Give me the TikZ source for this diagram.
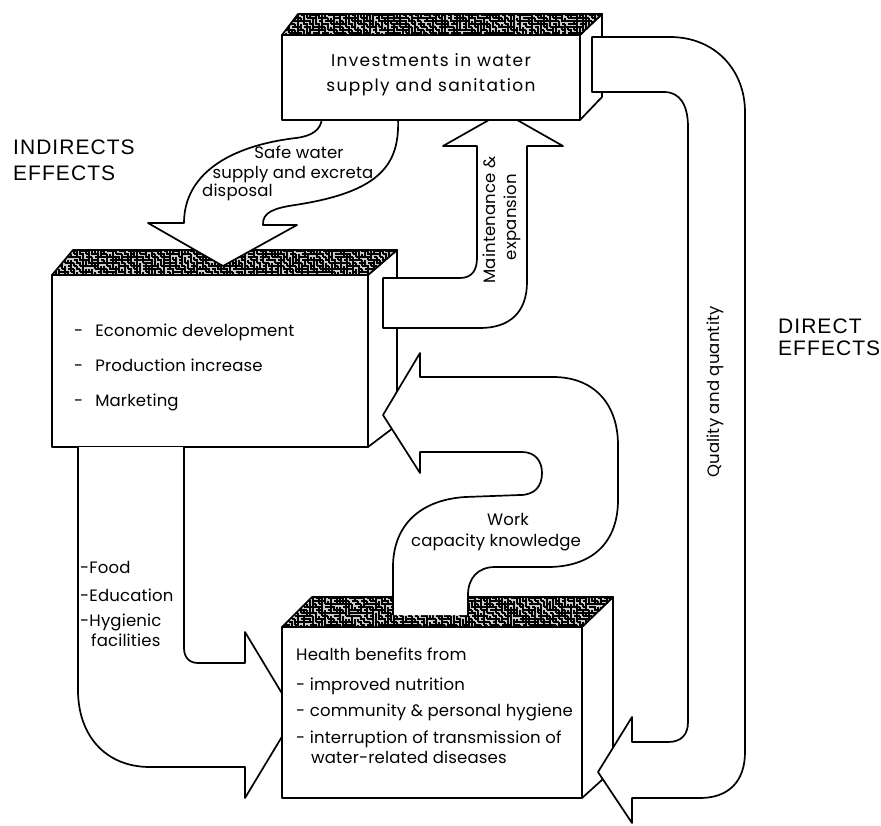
\documentclass[tikz,border=0pt]{standalone}
\usepackage{fontspec}
\setmainfont{Poppins}
\newfontfamily\capsfont{Liberation Sans}

% random maze texture for the top faces of the slabs
\newcommand\mazepatch[4]{%
  \foreach \ci in {0,...,#3}{%
    \foreach \cj in {0,...,#4}{%
      \pgfmathrandominteger{\rr}{0}{3}%
      \pgfmathsetmacro{\px}{#1+3*\ci}%
      \pgfmathsetmacro{\py}{#2+3*\cj}%
      \ifcase\rr\relax
        \draw[maze] (\px,\py) -- ++(3,0);
      \or \draw[maze] (\px,\py) -- ++(0,3);
      \or \draw[maze] (\px,\py) -- ++(3,0) -- ++(0,3);
      \else \draw[maze] (\px,\py) -- ++(0,3) -- ++(3,0);
      \fi}}}

\begin{document}
\begin{tikzpicture}[x=1pt,y=-1pt,
  outline/.style={draw=black, line width=1.7pt, line join=round},
  panel/.style={outline, fill=white},
  maze/.style={line width=1.05pt, black},
  txt/.style={font=\addfontfeature{LetterSpace=1}\fontsize{16.5}{19}\selectfont,
    inner sep=0pt, text height=11pt, text depth=3.5pt},
  headtxt/.style={txt, font=\addfontfeature{LetterSpace=8}\fontsize{17}{19}\selectfont},
  bigcap/.style={font=\capsfont\addfontfeature{LetterSpace=5}\fontsize{21}{24}\selectfont,
    inner sep=0pt, anchor=west}]
\pgfmathsetseed{11}
\useasboundingbox (0,0) rectangle (881,825);
\fill[white] (0,0) rectangle (881,825);

% ---------- middle slab ----------
\draw[panel] (52,275) rectangle (368,447);
\draw[panel] (368,275) -- (397,250) -- (397,425) -- (368,447) -- cycle;
\begin{scope}
  \clip (52,275) -- (73,250) -- (397,250) -- (368,275) -- cycle;
  \fill[black!20] (50,248) rectangle (399,277);
  \mazepatch{50}{248}{116}{10}
\end{scope}
\draw[outline] (52,275) -- (73,250) -- (397,250) -- (368,275) -- cycle;

% ---------- left arrow (under the lower slab) ----------
\fill[white] (78,447) -- (78,690) .. controls (78,735) and (105,767) .. (150,767)
  -- (245,767) -- (245,798) -- (295,715) -- (245,632) -- (245,663) -- (198,663)
  .. controls (189,663) and (184,657) .. (184,648) -- (184,447) -- cycle;
\draw[outline] (78,447) -- (78,690) .. controls (78,735) and (105,767) .. (150,767)
  -- (245,767) -- (245,798) -- (295,715) -- (245,632) -- (245,663) -- (198,663)
  .. controls (189,663) and (184,657) .. (184,648) -- (184,447);

% ---------- lower slab ----------
\draw[panel] (282,627) rectangle (582,798);
\draw[panel] (582,627) -- (613,597) -- (613,770) -- (582,798) -- cycle;
\begin{scope}
  \clip (282,627) -- (312,597) -- (613,597) -- (582,627) -- cycle;
  \fill[black!20] (280,595) rectangle (615,629);
  \mazepatch{280}{595}{112}{11}
\end{scope}
\draw[outline] (282,627) -- (312,597) -- (613,597) -- (582,627) -- cycle;

% ---------- safe water arrow ----------
\draw[panel] (322,118) .. controls (321,130) and (312,136) .. (296,138)
  .. controls (228,146) and (184,175) .. (184,223)
  -- (148,223) -- (223,266) -- (297,225) -- (263,225)
  .. controls (262,212) and (275,208) .. (295,205)
  .. controls (380,192) and (400,165) .. (398,118) -- cycle;

% ---------- maintenance arrow ----------
\draw[panel] (383,278) -- (460,278) .. controls (472,278) and (477,270) .. (477,258)
  -- (477,146) -- (443,146) -- (503,112) -- (563,146) -- (527,146) -- (527,282)
  .. controls (527,312) and (510,328) .. (480,328) -- (383,328) -- cycle;

% ---------- upper slab ----------
\draw[panel] (282,35) rectangle (580,120);
\draw[panel] (580,35) -- (602,14) -- (602,97) -- (580,120) -- cycle;
\begin{scope}
  \clip (282,35) -- (298,14) -- (602,14) -- (580,35) -- cycle;
  \fill[black!20] (280,12) rectangle (604,37);
  \mazepatch{280}{12}{108}{8}
\end{scope}
\draw[outline] (282,35) -- (298,14) -- (602,14) -- (580,35) -- cycle;

% ---------- quality arrow ----------
\draw[panel] (592,37) -- (670,37) .. controls (715,37) and (745,70) .. (745,112)
  -- (745,752) .. controls (745,782) and (728,798) .. (700,798) -- (632,798)
  -- (632,823) -- (598,772) -- (632,717) -- (632,742) -- (668,742)
  .. controls (681,742) and (688,735) .. (688,722) -- (688,127)
  .. controls (688,105) and (680,92) .. (664,92) -- (592,92) -- cycle;

% ---------- work arrow ----------
\fill[white] (393,615) -- (393,565) .. controls (394,525) and (420,500) .. (465,497)
  -- (520,495) .. controls (535,495) and (542,486) .. (542,473)
  .. controls (542,462) and (536,452) .. (522,452) -- (420,452) -- (420,473)
  -- (383,415) -- (420,353) -- (420,377) -- (553,377)
  .. controls (595,377) and (618,405) .. (618,445) -- (618,500)
  .. controls (618,540) and (595,566) .. (550,567) -- (495,567)
  .. controls (478,567) and (468,578) .. (468,595) -- (468,615) -- cycle;
\draw[outline] (393,615) -- (393,565) .. controls (394,525) and (420,500) .. (465,497)
  -- (520,495) .. controls (535,495) and (542,486) .. (542,473)
  .. controls (542,462) and (536,452) .. (522,452) -- (420,452) -- (420,473)
  -- (383,415) -- (420,353) -- (420,377) -- (553,377)
  .. controls (595,377) and (618,405) .. (618,445) -- (618,500)
  .. controls (618,540) and (595,566) .. (550,567) -- (495,567)
  .. controls (478,567) and (468,578) .. (468,595) -- (468,615);

% ---------- texts ----------
\node[headtxt] (inv1) at (431,63) {Investments in water};
\node[headtxt] (inv2) at (431,88) {supply and sanitation};

\node[txt] (sw1) at (299,155) {Safe water};
\node[txt] (sw2) at (293,175) {supply and excreta};
\node[txt, anchor=west] (sw3) at (202,193) {disposal};

\node[txt, rotate=90] (mt1) at (492,220) {Maintenance \&};
\node[txt, rotate=90] (mt2) at (513,217) {expansion};

\node[txt, anchor=west] (ec1) at (74,333) {-\hspace{12pt}Economic development};
\node[txt, anchor=west] (ec2) at (74,368) {-\hspace{12pt}Production increase};
\node[txt, anchor=west] (ec3) at (74,403) {-\hspace{12pt}Marketing};

\node[txt] (wk1) at (508,522) {Work};
\node[txt] (wk2) at (496,543) {capacity knowledge};

\node[txt, anchor=west] (fd1) at (80,570) {-Food};
\node[txt, anchor=west] (fd2) at (80,598) {-Education};
\node[txt, anchor=west] (fd3) at (80,623) {-Hygienic};
\node[txt, anchor=west] (fd4) at (91,643) {facilities};

\node[txt, anchor=west] (hb0) at (296,657) {Health benefits from};
\node[txt, anchor=west] (hb1) at (296,687) {- improved nutrition};
\node[txt, anchor=west] (hb2) at (296,713) {- community \& personal hygiene};
\node[txt, anchor=west] (hb3) at (296,740) {- interruption of transmission of};
\node[txt, anchor=west] (hb4) at (311,760) {water-related diseases};

\node[txt, rotate=90] (qq) at (716,392) {Quality and quantity};

\node[bigcap] (ind1) at (13,147) {INDIRECTS};
\node[bigcap] (ind2) at (13,173) {EFFECTS};
\node[bigcap] (dir1) at (778,326) {DIRECT};
\node[bigcap] (dir2) at (778,348) {EFFECTS};
\end{tikzpicture}
\end{document}
